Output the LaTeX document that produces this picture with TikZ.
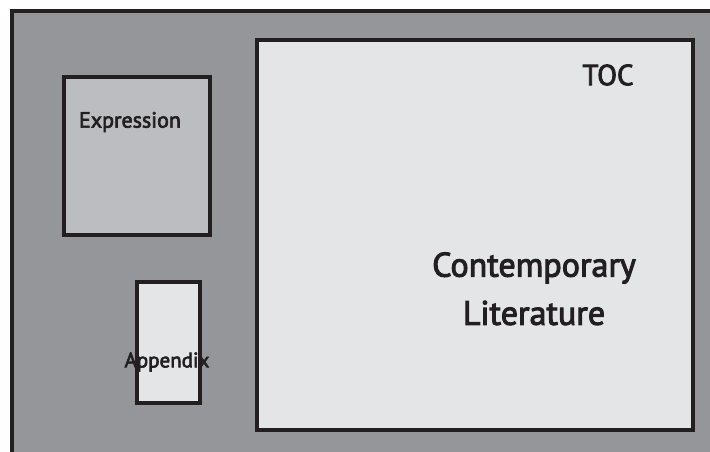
\documentclass[tikz,border=0pt]{standalone}
\usepackage{fontspec}
\setmainfont[FakeBold=3]{PT Sans}
\usetikzlibrary{positioning}
\definecolor{frame}{HTML}{231F20}
\definecolor{back}{HTML}{95969A}
\definecolor{mid}{HTML}{BCBDC1}
\definecolor{pale}{HTML}{E4E5E7}

\begin{document}
\begin{tikzpicture}[x=1pt,y=-1pt,
    box/.style={draw=frame, line width=4pt},
    lbl/.style={text=frame, inner sep=0pt, font=\fontsize{21}{24}\selectfont}]
    \useasboundingbox (0,0) rectangle (710,452);
    \clip (0,0) rectangle (710,452);
    \filldraw[box, fill=back] (12,11) rectangle (730,470);
    \filldraw[box, fill=mid, line width=3.5pt] (64,77) rectangle (210,235);
    \filldraw[box, fill=pale, line width=3.5pt] (137,282) rectangle (200,403);
    \filldraw[box, fill=pale, line width=4.5pt] (257,40) rectangle (693,430);

    \node[lbl, font=\fontsize{29}{34}\selectfont] (toc) at (608,75) {TOC};
    \node[lbl, font=\fontsize{34}{40}\selectfont] (contemporary) at (534,268) {Contemporary};
    \node[lbl, font=\fontsize{34}{40}\selectfont] (literature) at (534,313) {Literature};
    \node[lbl, font=\fontsize{22}{26}\selectfont] (expression) at (130,122) {Expression};
    \node[lbl] (appendix) at (167,362) {Appendix};
\end{tikzpicture}
\end{document}
